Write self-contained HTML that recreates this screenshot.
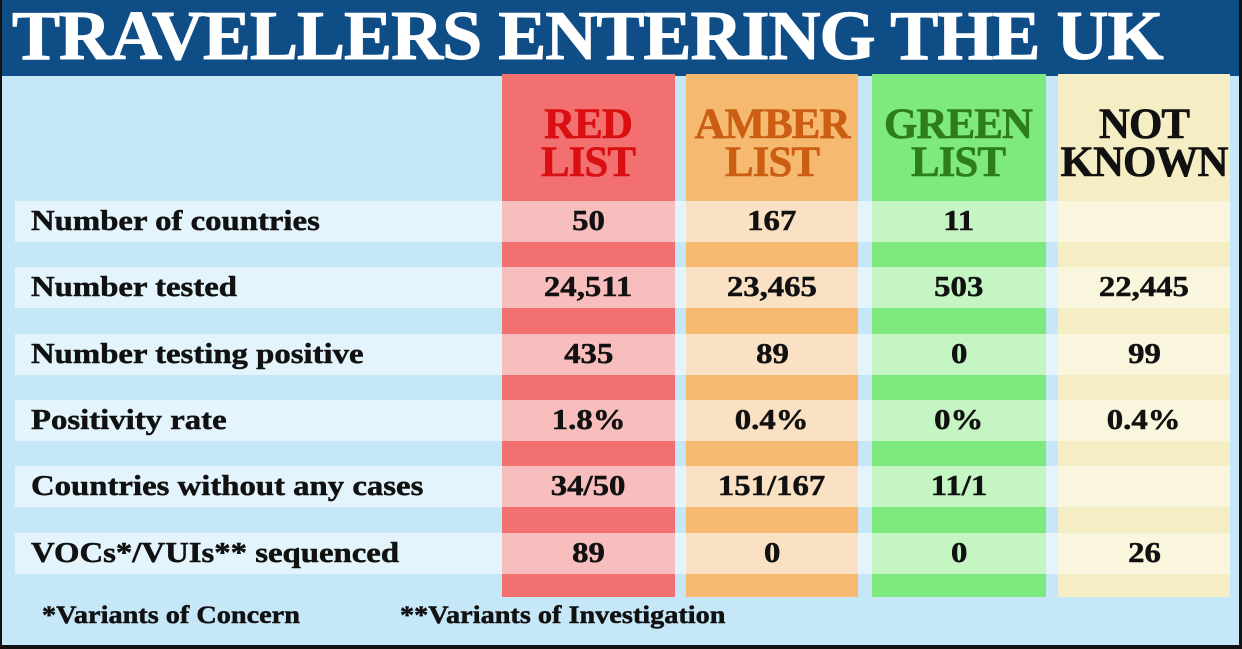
<!DOCTYPE html>
<html><head><style>
body{margin:0;width:1242px;height:649px;background:#111;overflow:hidden;position:relative;font-family:"Liberation Serif",serif;font-weight:bold}
div{position:absolute;box-sizing:border-box}
.bg{left:2px;top:0;width:1237px;height:645px;background:#c5e7f8}
.hdb{left:2px;top:0;width:1237px;height:76px;background:#0f4d86}
.hd{left:12px;top:-3px;color:#fff;font-size:70px;line-height:80px;white-space:nowrap;transform:scaleX(1.03);transform-origin:0 0;letter-spacing:-1px;-webkit-text-stroke:1px #fff}
.col{top:74px;height:523px}
.band{left:15px;width:1215px;height:41px;background:#e3f4fc}
.cb{height:41px}
.t{font-size:29px;line-height:41px;color:#111;white-space:nowrap}
.t span{display:inline-block;transform:scaleX(1.13);-webkit-text-stroke:0.5px #111}
.l span{transform-origin:0 50%}
.c{text-align:center}
.h{top:106px;height:90px;font-size:43px;line-height:38px;text-align:center;width:172px;letter-spacing:-1px}
.h span{display:inline-block;-webkit-text-stroke:0.6px currentColor}
</style></head><body>
<div class="bg"></div>
<div class="hdb"></div>
<div class="hd">TRAVELLERS ENTERING THE UK</div>
<div class="col" style="left:502px;width:173px;background:#f27070"></div>
<div class="col" style="left:686px;width:172px;background:#f5ba70"></div>
<div class="col" style="left:872px;width:174px;background:#7ee97c"></div>
<div class="col" style="left:1058px;width:172px;background:#f5edc4"></div>
<div class="h" style="left:502px;color:#d90f12"><span>RED<br>LIST</span></div>
<div class="h" style="left:686px;color:#cc5e14"><span>AMBER<br>LIST</span></div>
<div class="h" style="left:872px;color:#2e7d1c"><span>GREEN<br>LIST</span></div>
<div class="h" style="left:1058px;color:#111"><span>NOT<br>KNOWN</span></div>
<script>
var rows=[["Number of countries","50","167","11",""],["Number tested","24,511","23,465","503","22,445"],["Number testing positive","435","89","0","99"],["Positivity rate","1.8%","0.4%","0%","0.4%"],["Countries without any cases","34/50","151/167","11/1",""],["VOCs*/VUIs** sequenced","89","0","0","26"]];
var xs=[502,686,872,1058],ws=[173,172,174,172],lc=["#f8bdbd","#fae1c3","#c6f5c4","#faf5dd"];
var h="";
rows.forEach(function(r,i){var y=201+i*66.3;
h+='<div class="band" style="top:'+y+'px"></div>';
for(var j=0;j<4;j++)h+='<div class="cb" style="top:'+y+'px;left:'+xs[j]+'px;width:'+ws[j]+'px;background:'+lc[j]+'"></div>';
h+='<div class="t l" style="top:'+y+'px;left:31px"><span>'+r[0]+'</span></div>';
for(var j=0;j<4;j++)h+='<div class="t c" style="top:'+y+'px;left:'+xs[j]+'px;width:'+ws[j]+'px"><span>'+r[j+1]+'</span></div>';
});
document.body.insertAdjacentHTML('beforeend',h);
</script>
<div class="t l" style="top:595px;left:42px;font-size:25px"><span>*Variants of Concern</span></div>
<div class="t l" style="top:595px;left:400px;font-size:25px"><span>**Variants of Investigation</span></div>
</body></html>
